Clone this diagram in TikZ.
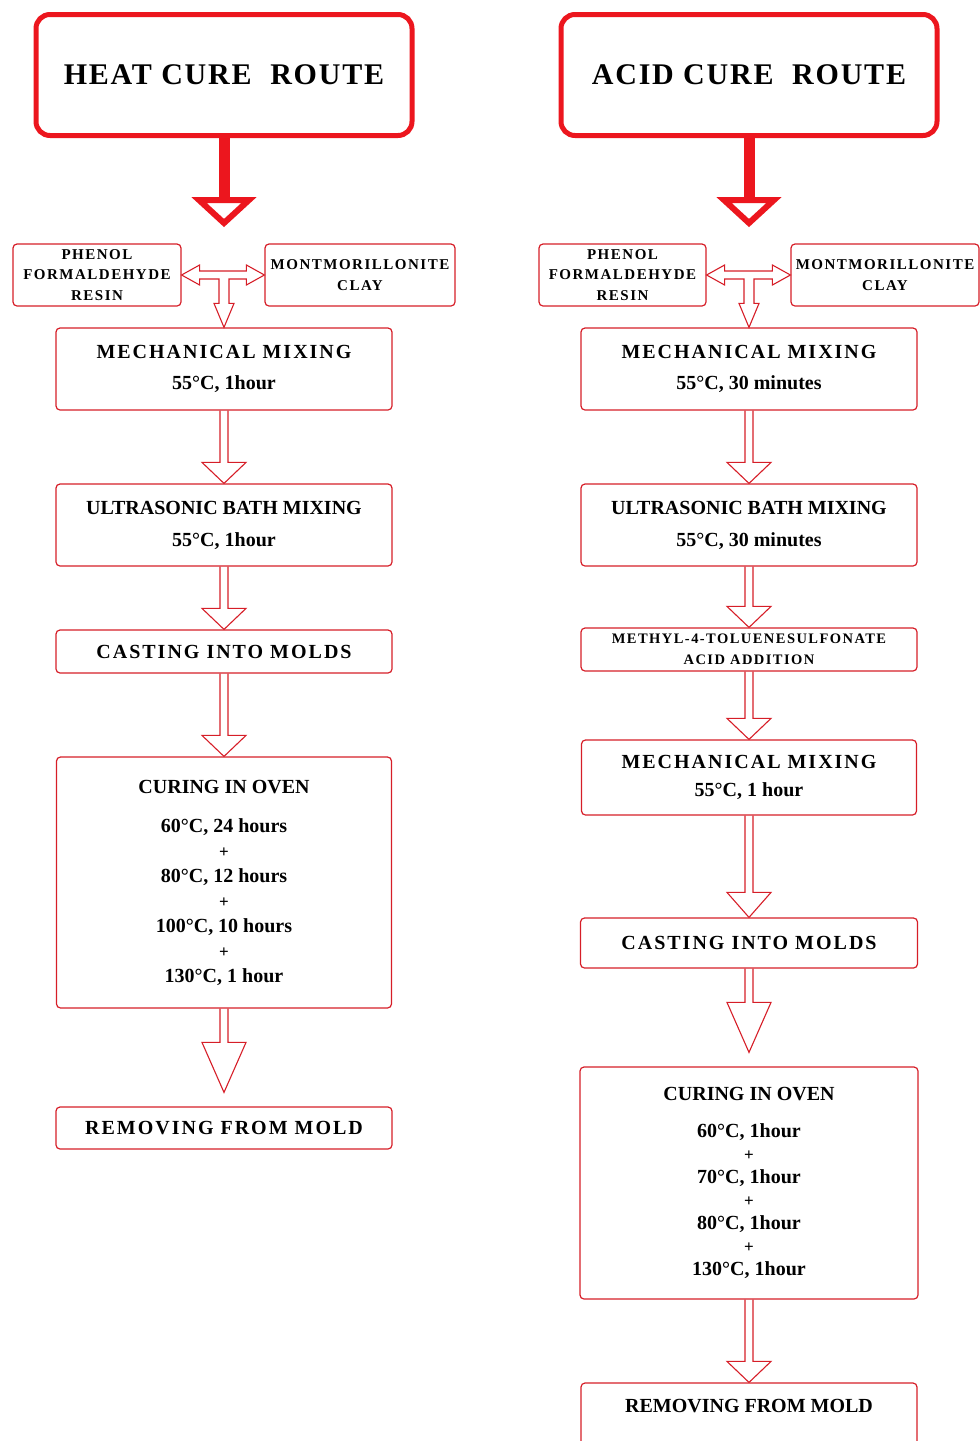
\documentclass[tikz,border=0pt]{standalone}
\usepackage{fontspec}
\setmainfont{Liberation Serif}
\newfontfamily\widefont{Liberation Serif}[LetterSpace=10]
\newfontfamily\titlefont{Liberation Serif}[LetterSpace=6]
\usetikzlibrary{calc}

\definecolor{titlered}{RGB}{236,22,30}
\definecolor{flowred}{RGB}{214,30,40}

\tikzset{
  routebox/.style={draw=titlered, line width=5pt, rounded corners=14pt, minimum width=376pt, minimum height=121pt, inner sep=0pt, font=\fontsize{30}{36}\selectfont\titlefont\bfseries},
  stepbox/.style={draw=flowred, line width=1.2pt, rounded corners=4pt, inner sep=0pt, align=center, font=\fontsize{20}{31}\selectfont\bfseries},
  widetext/.style={font=\fontsize{20}{31}\selectfont\widefont\bfseries},
  smalltext/.style={font=\fontsize{15}{20.5}\selectfont\widefont\bfseries},
  hollow/.style={draw=flowred, line width=1.1pt, line join=miter},
  bigarrow/.style={draw=titlered, line width=11pt},
  bighead/.style={draw=titlered, fill=white, line width=6pt, line join=miter},
}

% hollow arrow: from, to, head length, gap above target
\newcommand{\hollowdown}[4]{%
  \draw[hollow] let \p1=(#1.south), \p2=(#2.north) in
    ({\x1-4pt},\y1) -- ({\x1-4pt},{\y2+#4+#3}) -- ({\x1-22pt},{\y2+#4+#3}) -- (\x1,{\y2+#4})
    -- ({\x1+22pt},{\y2+#4+#3}) -- ({\x1+4pt},{\y2+#4+#3}) -- ({\x1+4pt},\y1);}

% T junction: left box, right box, box below
\newcommand{\hollowtee}[3]{%
  \draw[hollow] let \p1=(#1.east), \p2=(#2.west), \p3=(#3.north) in
    (\x1,\y1) -- ({\x1+18pt},{\y1+10pt}) -- ({\x1+18pt},{\y1+4pt}) -- ({\x2-18pt},{\y1+4pt})
    -- ({\x2-18pt},{\y1+10pt}) -- (\x2,\y1) -- ({\x2-18pt},{\y1-10pt}) -- ({\x2-18pt},{\y1-4pt})
    -- ({\x3+5pt},{\y1-4pt}) -- ({\x3+5pt},{\y3+24pt}) -- ({\x3+10pt},{\y3+24pt}) -- (\x3,\y3)
    -- ({\x3-10pt},{\y3+24pt}) -- ({\x3-5pt},{\y3+24pt}) -- ({\x3-5pt},{\y1-4pt})
    -- ({\x1+18pt},{\y1-4pt}) -- ({\x1+18pt},{\y1-10pt}) -- cycle;}

\newcommand{\plusline}{{\fontsize{17}{23}\selectfont +}}

\begin{document}
\begin{tikzpicture}[x=1pt,y=-1pt]
\useasboundingbox (0,0) rectangle (980,1441);

%Heat cure route
\node[routebox] (heat) at (224,75) {HEAT CURE\ \ ROUTE};
\coordinate (heattip) at (224,223);
\draw[bigarrow] (heat.south) -- ($(heattip)+(0,-23)$);
\draw[bighead] ($(heattip)+(-25,-23)$) -- (heattip) -- ($(heattip)+(25,-23)$) -- cycle;

\node[stepbox, smalltext, minimum width=168pt, minimum height=62pt] (phenolL) at (97,275) {PHENOL\\FORMALDEHYDE\\RESIN};
\node[stepbox, smalltext, minimum width=190pt, minimum height=62pt] (clayL) at (360,275) {MONTMORILLONITE\\CLAY};
\node[stepbox, widetext, minimum width=336pt, minimum height=82pt] (mechL) at (224,369) {MECHANICAL MIXING\\{\rmfamily 55°C, 1hour}};
\node[stepbox, minimum width=336pt, minimum height=82pt, font=\fontsize{20}{32}\selectfont\bfseries] (ultraL) at (224,525) {ULTRASONIC BATH MIXING\\55°C, 1hour};
\node[stepbox, widetext, minimum width=336pt, minimum height=43pt] (castL) at (224,651.5) {CASTING INTO MOLDS};
\node[stepbox, minimum width=335pt, minimum height=251pt, font=\fontsize{20}{25}\selectfont\bfseries] (cureL) at (224,882.5)
  {CURING IN OVEN\\[14pt]60°C, 24 hours\\\plusline\\80°C, 12 hours\\\plusline\\100°C, 10 hours\\\plusline\\130°C, 1 hour};
\node[stepbox, widetext, minimum width=336pt, minimum height=42pt] (removeL) at (224,1128) {REMOVING FROM MOLD};

\hollowtee{phenolL}{clayL}{mechL}
\hollowdown{mechL}{ultraL}{21}{0}
\hollowdown{ultraL}{castL}{21}{0}
\hollowdown{castL}{cureL}{21}{0}
\hollowdown{cureL}{removeL}{50}{14}

%Acid cure route
\node[routebox] (acid) at (749,75) {ACID CURE\ \ ROUTE};
\coordinate (acidtip) at (749,223);
\draw[bigarrow] (acid.south) -- ($(acidtip)+(0,-23)$);
\draw[bighead] ($(acidtip)+(-25,-23)$) -- (acidtip) -- ($(acidtip)+(25,-23)$) -- cycle;

\node[stepbox, smalltext, minimum width=167pt, minimum height=62pt] (phenolR) at (622.5,275) {PHENOL\\FORMALDEHYDE\\RESIN};
\node[stepbox, smalltext, minimum width=188pt, minimum height=62pt] (clayR) at (885,275) {MONTMORILLONITE\\CLAY};
\node[stepbox, widetext, minimum width=336pt, minimum height=82pt] (mechR) at (749,369) {MECHANICAL MIXING\\{\rmfamily 55°C, 30 minutes}};
\node[stepbox, minimum width=336pt, minimum height=82pt, font=\fontsize{20}{32}\selectfont\bfseries] (ultraR) at (749,525) {ULTRASONIC BATH MIXING\\55°C, 30 minutes};
\node[stepbox, minimum width=336pt, minimum height=43pt, font=\fontsize{14.5}{21}\selectfont\widefont\bfseries] (acidadd) at (749,649.5) {METHYL-4-TOLUENESULFONATE\\ACID ADDITION};
\node[stepbox, minimum width=335pt, minimum height=75pt, font=\fontsize{20}{28}\selectfont\widefont\bfseries] (mechtwo) at (749,777.5) {MECHANICAL MIXING\\{\rmfamily 55°C, 1 hour}};
\node[stepbox, widetext, minimum width=337pt, minimum height=50pt] (castR) at (749,943) {CASTING INTO MOLDS};
\node[stepbox, minimum width=338pt, minimum height=232pt, font=\fontsize{20}{23}\selectfont\bfseries] (cureR) at (749,1183)
  {CURING IN OVEN\\[14pt]60°C, 1hour\\\plusline\\70°C, 1hour\\\plusline\\80°C, 1hour\\\plusline\\130°C, 1hour};
\node[stepbox, minimum width=336pt, minimum height=62pt, text depth=16pt] (removeR) at (749,1414) {REMOVING FROM MOLD};

\hollowtee{phenolR}{clayR}{mechR}
\hollowdown{mechR}{ultraR}{21}{0}
\hollowdown{ultraR}{acidadd}{21}{0}
\hollowdown{acidadd}{mechtwo}{21}{0}
\hollowdown{mechtwo}{castR}{25}{0}
\hollowdown{castR}{cureR}{50}{14}
\hollowdown{cureR}{removeR}{21}{0}

\end{tikzpicture}
\end{document}
